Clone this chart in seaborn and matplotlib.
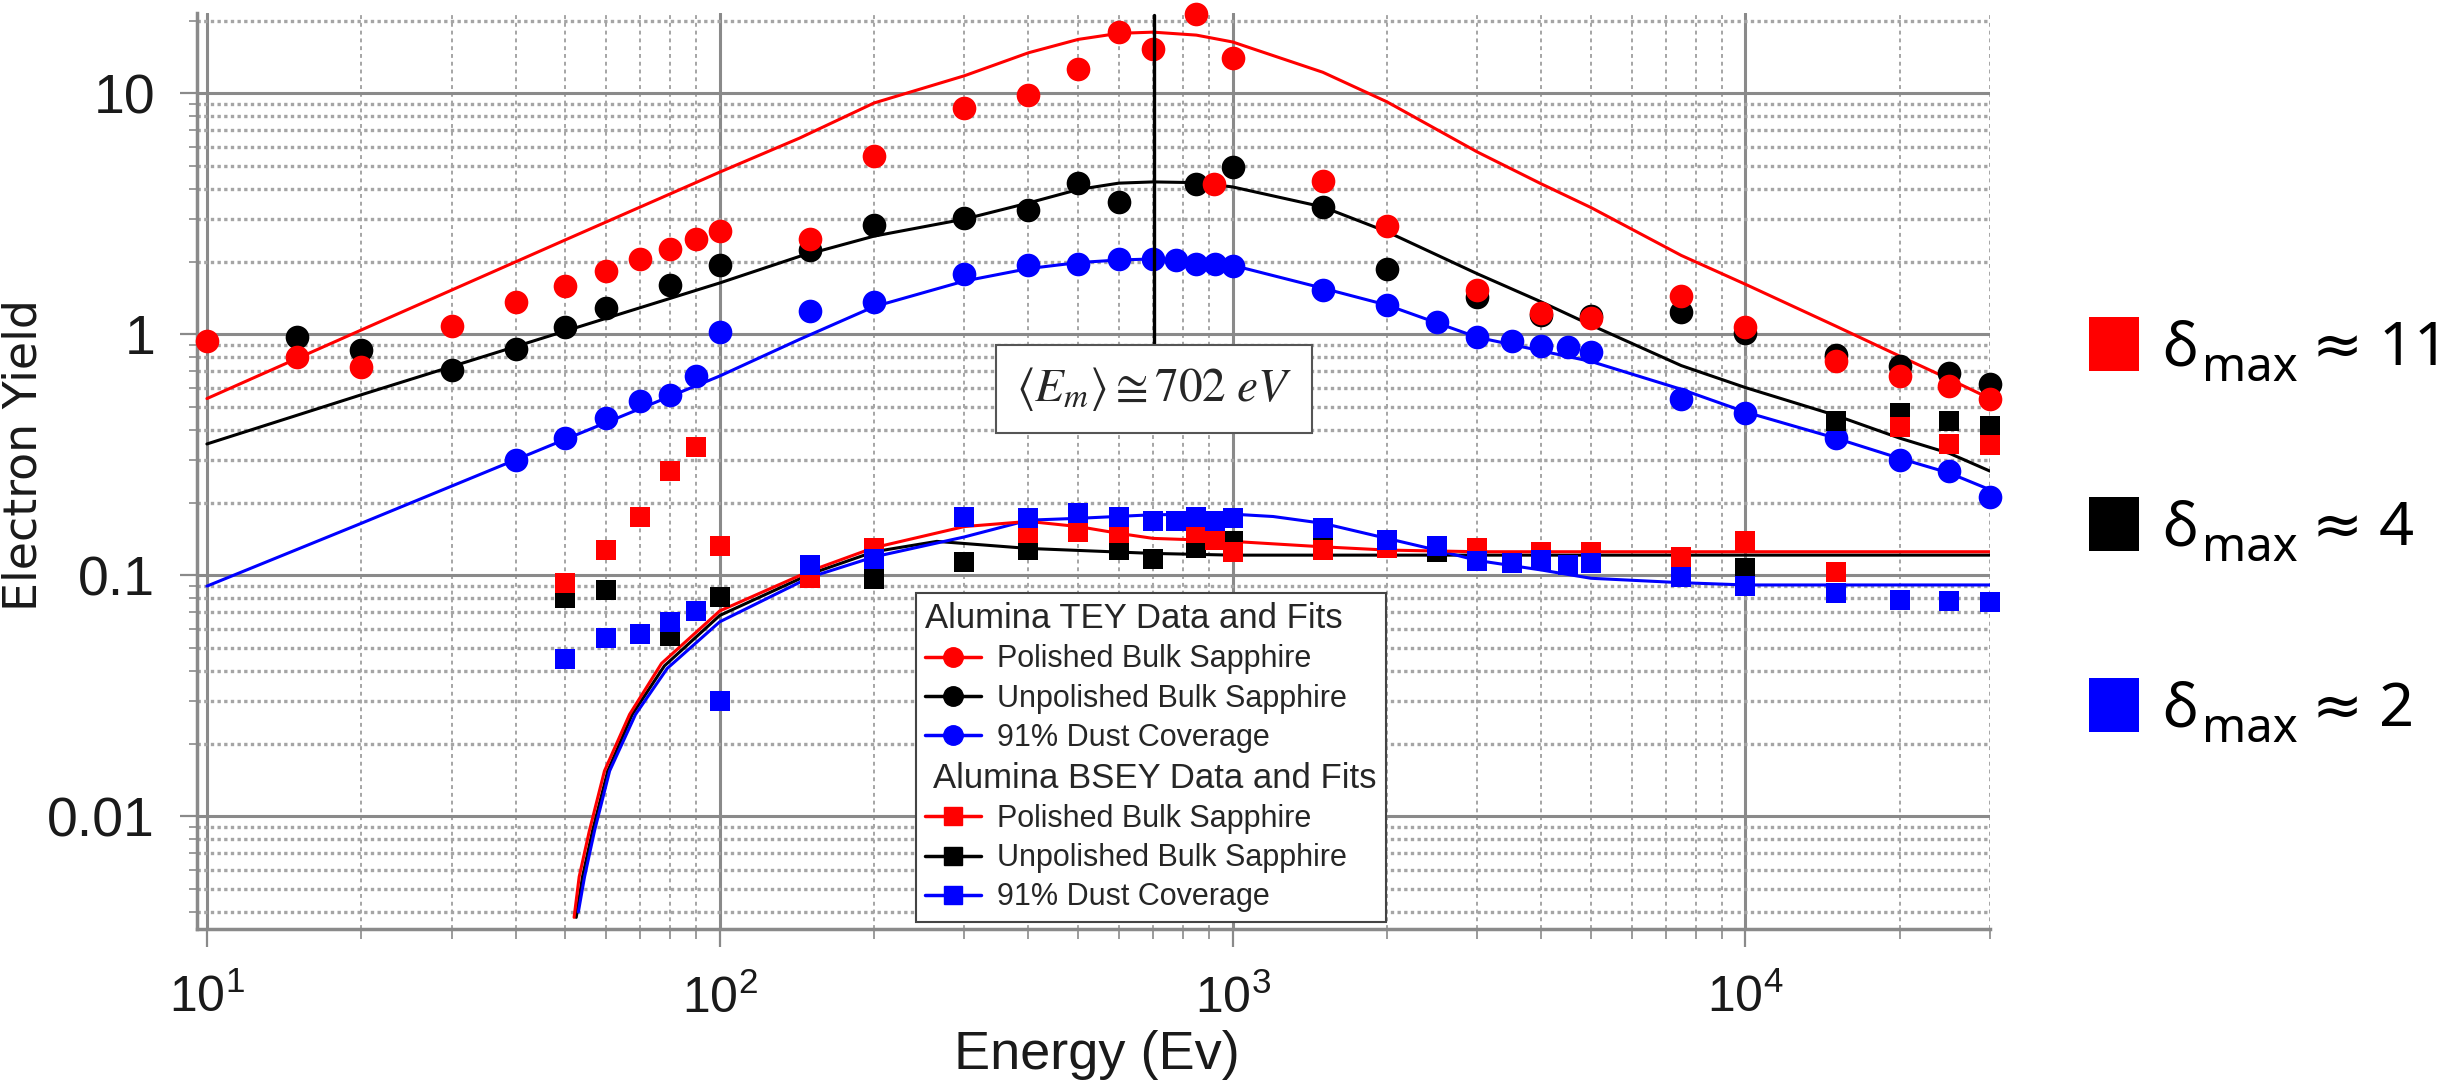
import numpy as np
import pandas as pd
import seaborn as sns
import matplotlib.pyplot as plt
from matplotlib import font_manager
from matplotlib.lines import Line2D
from matplotlib.patches import Rectangle
from matplotlib.ticker import LogLocator, NullFormatter

# ---- TEY data (circles) ----
tey_pol_x = [10, 15, 20, 30, 40, 50, 60, 70, 80, 90, 100, 150, 200, 300, 400, 500, 600, 700, 850, 920,
             1000, 1500, 2000, 3000, 4000, 5000, 7500, 10000, 15000, 20000, 25000, 30000]
tey_pol_y = [0.94, 0.80, 0.73, 1.08, 1.36, 1.58, 1.82, 2.05, 2.26, 2.48, 2.69, 2.48, 5.5, 8.7, 9.8, 12.6, 17.9, 15.2, 21.3, 4.2,
             14.0, 4.3, 2.8, 1.53, 1.22, 1.17, 1.44, 1.07, 0.77, 0.67, 0.61, 0.54]

tey_unp_x = [15, 20, 30, 40, 50, 60, 80, 100, 150, 200, 300, 400, 500, 600, 850, 1000,
             1500, 2000, 3000, 4000, 5000, 7500, 10000, 15000, 20000, 25000, 30000]
tey_unp_y = [0.97, 0.86, 0.71, 0.87, 1.07, 1.28, 1.60, 1.93, 2.23, 2.84, 3.04, 3.27, 4.25, 3.53, 4.2, 4.95,
             3.37, 1.87, 1.43, 1.2, 1.19, 1.23, 1.01, 0.82, 0.74, 0.69, 0.62]

tey_dust_x = [40, 50, 60, 70, 80, 90, 100, 150, 200, 300, 400, 500, 600, 700, 775, 850, 925, 1000,
              1500, 2000, 2500, 3000, 3500, 4000, 4500, 5000, 7500, 10000, 15000, 20000, 25000, 30000]
tey_dust_y = [0.30, 0.37, 0.45, 0.53, 0.56, 0.67, 1.02, 1.25, 1.36, 1.77, 1.93, 1.95, 2.05, 2.05, 2.03, 1.95, 1.95, 1.91,
              1.53, 1.32, 1.12, 0.97, 0.94, 0.89, 0.885, 0.84, 0.54, 0.47, 0.37, 0.30, 0.27, 0.21]

# ---- BSEY data (squares) ----
bsey_pol_x = [50, 60, 70, 80, 90, 100, 150, 200, 400, 500, 600, 850, 925, 1000, 1500, 2000, 3000, 4000, 5000,
              7500, 10000, 15000, 20000, 25000, 30000]
bsey_pol_y = [0.093, 0.127, 0.175, 0.27, 0.34, 0.132, 0.097, 0.129, 0.149, 0.151, 0.149, 0.149, 0.140, 0.125, 0.127,
              0.129, 0.129, 0.125, 0.125, 0.119, 0.138, 0.103, 0.41, 0.35, 0.345]

bsey_unp_x = [50, 60, 80, 100, 200, 300, 400, 600, 700, 850, 1000, 1500, 2500, 3000, 10000, 15000, 20000, 25000, 30000]
bsey_unp_y = [0.080, 0.087, 0.056, 0.081, 0.096, 0.113, 0.127, 0.127, 0.117, 0.129, 0.138, 0.133, 0.125, 0.121,
              0.107, 0.435, 0.47, 0.435, 0.415]

bsey_dust_x = [50, 60, 70, 80, 90, 100, 150, 200, 300, 400, 500, 600, 700, 775, 850, 925, 1000, 1500, 2000, 2500,
               3000, 3500, 4000, 4500, 5000, 7500, 10000, 15000, 20000, 25000, 30000]
bsey_dust_y = [0.045, 0.055, 0.057, 0.064, 0.071, 0.030, 0.110, 0.117, 0.175, 0.172, 0.181, 0.175, 0.167, 0.167, 0.175,
               0.167, 0.172, 0.157, 0.140, 0.132, 0.114, 0.112, 0.115, 0.110, 0.112, 0.098, 0.090, 0.084, 0.079, 0.078, 0.077]

# ---- fitted curves ----
fit_tey_pol_x = [10, 20, 50, 100, 143, 200, 300, 400, 500, 600, 700, 850, 1000, 1500, 2000, 3000, 4000, 5000,
                 7500, 10000, 15000, 20000, 25000, 30000]
fit_tey_pol_y = [0.54, 1.04, 2.46, 4.7, 6.5, 9.1, 11.8, 14.7, 16.7, 17.7, 17.9, 17.4, 16.3, 12.2, 9.2, 5.7, 4.2, 3.35,
                 2.12, 1.61, 1.08, 0.81, 0.65, 0.54]

fit_tey_unp_x = [10, 20, 50, 100, 143, 200, 300, 400, 500, 600, 700, 850, 1000, 1500, 2000, 3000, 4000, 5000,
                 7500, 10000, 15000, 20000, 25000, 30000]
fit_tey_unp_y = [0.35, 0.56, 1.03, 1.63, 2.1, 2.55, 3.0, 3.5, 3.98, 4.23, 4.28, 4.25, 4.08, 3.37, 2.66, 1.78, 1.36, 1.09,
                 0.74, 0.60, 0.46, 0.37, 0.32, 0.27]

fit_tey_dust_x = [10, 20, 50, 100, 143, 200, 300, 400, 500, 600, 700, 850, 1000, 1500, 2000, 3000, 5000,
                  7500, 10000, 15000, 20000, 25000, 30000]
fit_tey_dust_y = [0.09, 0.164, 0.366, 0.67, 0.95, 1.3, 1.66, 1.87, 1.98, 2.03, 2.05, 2.0, 1.93, 1.55, 1.32, 0.97, 0.77,
                  0.59, 0.475, 0.37, 0.305, 0.265, 0.226]

fit_bsey_pol_x = [52, 53.2, 55.7, 59.6, 66.7, 77, 100, 150, 200, 300, 400, 500, 600, 700, 850, 1000, 1500, 2000, 3000, 30000]
fit_bsey_pol_y = [0.0038, 0.0056, 0.0087, 0.0154, 0.0264, 0.043, 0.071, 0.104, 0.130, 0.159, 0.167, 0.159, 0.149,
                  0.142, 0.140, 0.138, 0.131, 0.127, 0.125, 0.125]

fit_bsey_unp_x = [52.5, 54, 56.5, 60.5, 67.5, 78, 100, 150, 200, 265, 400, 700, 1000, 30000]
fit_bsey_unp_y = [0.0038, 0.0056, 0.0087, 0.0154, 0.0264, 0.042, 0.068, 0.101, 0.125, 0.138, 0.129, 0.123, 0.121, 0.121]

fit_bsey_dust_x = [53, 54.5, 57, 61, 68.5, 79, 100, 150, 200, 300, 400, 500, 700, 1000, 1200, 1500, 2000, 2500,
                   3000, 4000, 5000, 7500, 10000, 30000]
fit_bsey_dust_y = [0.0040, 0.0056, 0.0087, 0.0154, 0.0264, 0.041, 0.064, 0.098, 0.119, 0.144, 0.169, 0.172, 0.178,
                   0.179, 0.175, 0.164, 0.142, 0.127, 0.115, 0.105, 0.097, 0.093, 0.091, 0.091]

series_names = ["Polished Bulk Sapphire", "Unpolished Bulk Sapphire", "91% Dust Coverage"]
series_colors = ["#ff0000", "#000000", "#0000ff"]
delta_max = ["11", "4", "2"]
em_value = 702

sns.set_theme(style="white")
names = {f.name for f in font_manager.fontManager.ttflist}
narrow = "Liberation Sans Narrow" if "Liberation Sans Narrow" in names else "Liberation Sans"
plt.rcParams["font.family"] = [narrow, "DejaVu Sans"]
plt.rcParams["mathtext.fontset"] = "stix"

fig = plt.figure(figsize=(24.52, 10.90), dpi=100)
ax = fig.add_axes([0.0803, 0.1477, 0.7313, 0.8404])
ax.set_xscale("log")
ax.set_yscale("log")

# fits
fits = [(fit_tey_unp_x, fit_tey_unp_y, 1), (fit_tey_pol_x, fit_tey_pol_y, 0), (fit_tey_dust_x, fit_tey_dust_y, 2),
        (fit_bsey_unp_x, fit_bsey_unp_y, 1), (fit_bsey_dust_x, fit_bsey_dust_y, 2), (fit_bsey_pol_x, fit_bsey_pol_y, 0)]
for fx, fy, ci in fits:
    sns.lineplot(x=fx, y=fy, color=series_colors[ci], lw=2.2, sort=False, errorbar=None, ax=ax, zorder=2)

# data points
circles = [(tey_unp_x, tey_unp_y, 1), (tey_pol_x, tey_pol_y, 0), (tey_dust_x, tey_dust_y, 2)]
for px, py, ci in circles:
    sns.scatterplot(x=px, y=py, color=series_colors[ci], marker="o", s=290, linewidth=0,
                    ax=ax, zorder=3, clip_on=False, legend=False)
squares = [(bsey_unp_x, bsey_unp_y, 1), (bsey_pol_x, bsey_pol_y, 0), (bsey_dust_x, bsey_dust_y, 2)]
for px, py, ci in squares:
    sns.scatterplot(x=px, y=py, color=series_colors[ci], marker="s", s=190, linewidth=0,
                    ax=ax, zorder=3, clip_on=False, legend=False)

ax.set_xlim(9.56, 30000)
ax.set_ylim(0.0034, 21.5)

# mean energy marker
ax.axvline(em_value, ymin=0.6, ymax=0.998, color="black", lw=2.4, zorder=4)
ax.text(em_value, 0.59, r"$\langle E_m\rangle \cong 702\ eV$", fontsize=34, ha="center", va="center",
        math_fontfamily="stix", zorder=5,
        bbox=dict(boxstyle="square,pad=0.42", fc="white", ec="#555555", lw=1.5))

# axes, grid, ticks
x_major = [10, 100, 1000, 10000]
x_labels = [r"$\mathregular{10^{%d}}$" % int(np.log10(v)) for v in x_major]
y_major = [0.01, 0.1, 1, 10]
y_labels = ["0.01", "0.1", "1", "10"]
ax.set_xticks(x_major, labels=x_labels)
ax.set_yticks(y_major, labels=y_labels)
ax.xaxis.set_minor_locator(LogLocator(base=10, subs=np.arange(2, 10), numticks=100))
ax.yaxis.set_minor_locator(LogLocator(base=10, subs=np.arange(2, 10), numticks=100))
ax.xaxis.set_minor_formatter(NullFormatter())
ax.yaxis.set_minor_formatter(NullFormatter())

ax.set_axisbelow(True)
ax.grid(which="major", axis="both", color="#8a8a8a", lw=2.2, ls="-")
ax.grid(which="minor", axis="y", color="#a5a5a5", lw=2.4, ls=(0, (1, 1)))
ax.grid(which="minor", axis="x", color="#a5a5a5", lw=1.4, ls=(0, (2, 2)))

for side in ["top", "right"]:
    ax.spines[side].set_visible(False)
for side in ["left", "bottom"]:
    ax.spines[side].set_color("#8a8a8a")
    ax.spines[side].set_linewidth(2.5)

ax.tick_params(axis="x", which="major", direction="out", length=13, width=1.6, color="#8a8a8a",
               labelsize=36, pad=20, labelcolor="#1a1a1a", bottom=True)
ax.tick_params(axis="x", which="minor", direction="out", length=7, width=1.2, color="#8a8a8a", bottom=True)
ax.tick_params(axis="y", which="major", direction="out", length=12, width=1.6, color="#8a8a8a",
               labelsize=40, pad=18, labelcolor="#1a1a1a", left=True)
ax.tick_params(axis="y", which="minor", direction="out", length=6, width=1.2, color="#8a8a8a", left=True)

ax.set_xlabel("Energy (Ev)", fontsize=39, color="#1a1a1a")
ax.xaxis.set_label_coords(0.502, -0.110)
ax.set_ylabel("Electron Yield", fontsize=33, color="#1a1a1a", fontfamily=["DejaVu Sans"])
ax.yaxis.set_label_coords(-0.084, 0.517)

# legend with two headers
handles = [Line2D([], [], color=c, marker="o", ms=14, lw=2.5) for c in series_colors]
handles.append(Line2D([], [], linestyle="none"))
handles += [Line2D([], [], color=c, marker="s", ms=13, lw=2.5) for c in series_colors]
labels = series_names + ["Alumina BSEY Data and Fits"] + series_names
leg = ax.legend(handles, labels, title="Alumina TEY Data and Fits", title_fontsize=25, alignment="left",
                loc="upper left", bbox_to_anchor=(0.4008, 0.3667), borderaxespad=0, fontsize=22,
                labelspacing=0.3, handlelength=1.83, handletextpad=0.52, borderpad=0.3,
                fancybox=False, framealpha=1, edgecolor="#444444")
leg.get_frame().set_linewidth(1.5)
leg.set_zorder(6)
hdr = leg.get_texts()[3]
hdr.set_fontsize(25)
# second header row: drop its (empty) handle box so the text sits at the left edge
for col in leg._legend_handle_box.get_children():
    for row in col.get_children():
        da, ta = row.get_children()
        if ta._text is hdr:
            da.width = 0
            row.sep = 6

# right-hand delta_max key
key_base = [0.6651, 0.5000, 0.3339]
for c, d, yb in zip(series_colors, delta_max, key_base):
    fig.patches.append(Rectangle((0.852, yb - 0.0055), 0.0204, 0.0495, transform=fig.transFigure,
                                 facecolor=c, edgecolor="none"))
    fig.text(0.8817, yb, "δ", fontsize=44, va="baseline", ha="left",
             fontfamily=["Noto Sans", "DejaVu Sans"], color="black")
    fig.text(0.8980, yb - 0.0147, "max", fontsize=34, va="baseline", ha="left",
             fontfamily=["Noto Sans", "DejaVu Sans"], color="black")
    fig.text(0.9429, yb, "≈ " + d, fontsize=44, va="baseline", ha="left",
             fontfamily=["Noto Sans", "DejaVu Sans"], color="black")

fig.savefig("out.png", dpi=100)
